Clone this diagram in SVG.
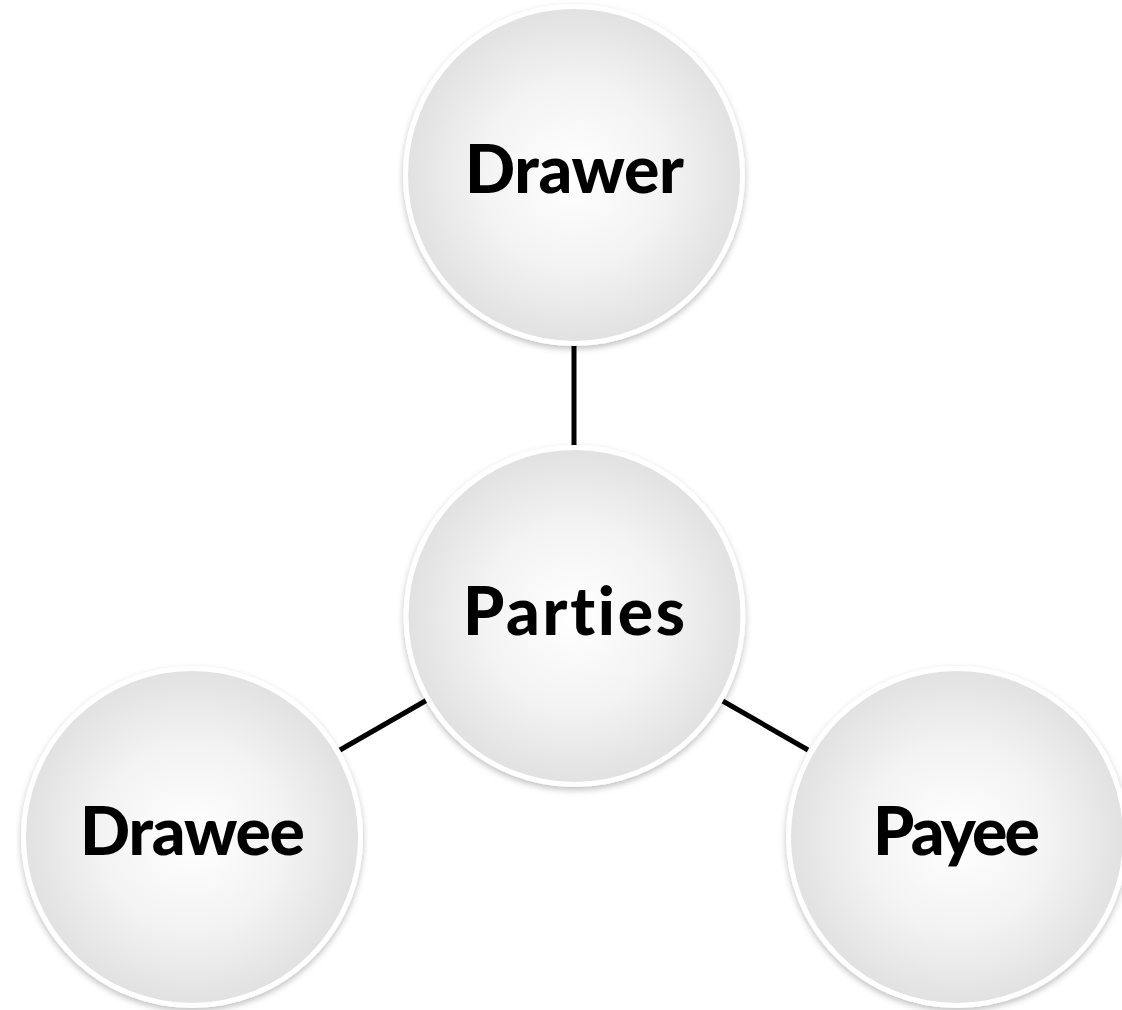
<svg xmlns="http://www.w3.org/2000/svg" width="1122" height="1010" viewBox="0 0 1122 1010">
<defs>
<radialGradient id="ball" cx="50%" cy="50%" r="50%">
<stop offset="0" stop-color="#ffffff"/>
<stop offset="0.55" stop-color="#f3f3f3"/>
<stop offset="1" stop-color="#e1e1e1"/>
</radialGradient>
<filter id="shadow" x="-20%" y="-20%" width="140%" height="140%">
<feDropShadow dx="0" dy="3" stdDeviation="3" flood-color="#000" flood-opacity="0.25"/>
</filter>
</defs>
<style>
.node circle{fill:url(#ball);stroke:#ffffff;stroke-width:5;filter:url(#shadow)}
.node text{font-family:"Lato","Open Sans","Liberation Sans",sans-serif;font-weight:900;font-size:66px;fill:#000;text-anchor:middle;font-variant-ligatures:none;font-feature-settings:"liga" 0}
.conn line{stroke:#000;stroke-width:5;stroke-linecap:butt}
</style>
<rect width="1122" height="1010" fill="#ffffff"/>
<g class="conn" id="connectors">
<line x1="574" y1="345" x2="574" y2="447"/>
<line x1="427" y1="700" x2="340" y2="750"/>
<line x1="721" y1="700" x2="808" y2="750"/>
</g>
<g class="node" id="drawer">
<circle cx="574" cy="175" r="168.5"/>
<text x="574.5" y="193" textLength="219" lengthAdjust="spacing">Drawer</text>
</g>
<g class="node" id="parties">
<circle cx="574.5" cy="616" r="168.5"/>
<text x="574" y="635" textLength="222" lengthAdjust="spacing">Parties</text>
</g>
<g class="node" id="drawee">
<circle cx="192" cy="837" r="168.5"/>
<text x="192.5" y="855" textLength="225" lengthAdjust="spacing">Drawee</text>
</g>
<g class="node" id="payee">
<circle cx="957" cy="837" r="168.5"/>
<text x="956.5" y="855" textLength="167" lengthAdjust="spacing">Payee</text>
</g>
</svg>
